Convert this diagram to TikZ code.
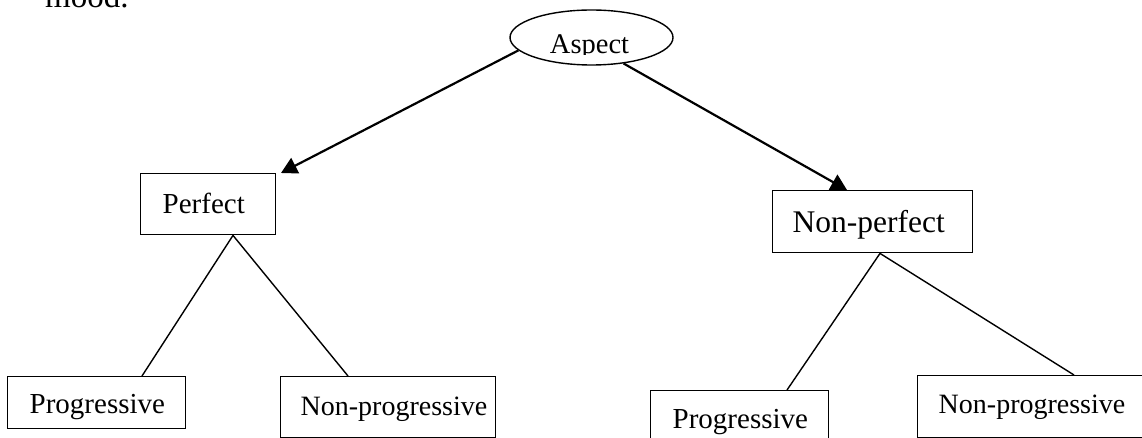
\documentclass[tikz,border=0pt]{standalone}
\usepackage{fontspec}
\setmainfont{Liberation Serif}
\usetikzlibrary{shapes.geometric,arrows.meta,calc}

\begin{document}
\begin{tikzpicture}[x=1pt,y=-1pt,
  box/.style={draw, fill=white, line width=1.4pt, inner ysep=0pt,
    anchor=north west, align=left, font=\fontsize{29}{29}\selectfont},
  boxfit/.style n args={4}{inner xsep=#1, text width=#2, text height=#3, text depth=#4},
  tree/.style={line width=1.4pt},
  arr/.style={line width=2.2pt, -{Triangle[length=16pt,width=17pt]}}]

\useasboundingbox (0,0) rectangle (1142,438);

% line of body text above the figure
\node[anchor=base west, inner sep=0pt, font=\fontsize{33}{33}\selectfont]
  (mood) at (45,8) {mood.};

% root
\node[ellipse, draw, line width=1.4pt, minimum width=163pt, minimum height=55pt,
  inner sep=0pt] (aspect) at (591.5,37.5) {};
\begin{scope}
  \clip (aspect.west |- aspect.north) rectangle ($(aspect.east)+(0,17.5)$);
  \node[anchor=base, inner sep=0pt, font=\fontsize{28.5}{28.5}\selectfont]
    (aspect-text) at ($(aspect.center)+(-2,16)$) {Aspect};
\end{scope}

% second level
\node[box, boxfit={22pt}{91pt}{40pt}{21pt}] (perfect) at (140,173) {\mbox{Perfect}};
\node[box, boxfit={20pt}{160pt}{42pt}{20pt}, font=\fontsize{31.5}{31.5}\selectfont]
  (nonperfect) at (772,190) {\mbox{Non-perfect}};

% third level
\node[box, boxfit={22pt}{134pt}{37pt}{15pt}] (lprog) at (7,376) {\mbox{Progressive}};
\node[box, boxfit={20pt}{175pt}{39pt}{22pt}, font=\fontsize{28}{28}\selectfont]
  (lnonprog) at (280,376) {\mbox{Non-progressive}};
\node[box, boxfit={22pt}{134pt}{38pt}{32pt}] (rprog) at (650,390) {\mbox{Progressive}};
\node[box, boxfit={21pt}{198pt}{38pt}{24pt}, font=\fontsize{28}{28}\selectfont]
  (rnonprog) at (917,375) {\mbox{Non-progressive}};

% arrows from the root
\draw[arr] (aspect.190) -- ($(perfect.north west)+(141,0)$);
\draw[arr] (aspect.321) -- ($(nonperfect.north west)+(75,0)$);

% plain branches
\draw[tree] ($(perfect.south west)+(93,0)$) -- ($(lprog.north west)+(135,0)$);
\draw[tree] ($(perfect.south west)+(93,0)$) -- ($(lnonprog.north west)+(68,0)$);
\draw[tree] ($(nonperfect.south west)+(108,0)$) -- ($(rprog.north west)+(137,0)$);
\draw[tree] ($(nonperfect.south west)+(108,0)$) -- ($(rnonprog.north west)+(157,0)$);
\end{tikzpicture}
\end{document}
